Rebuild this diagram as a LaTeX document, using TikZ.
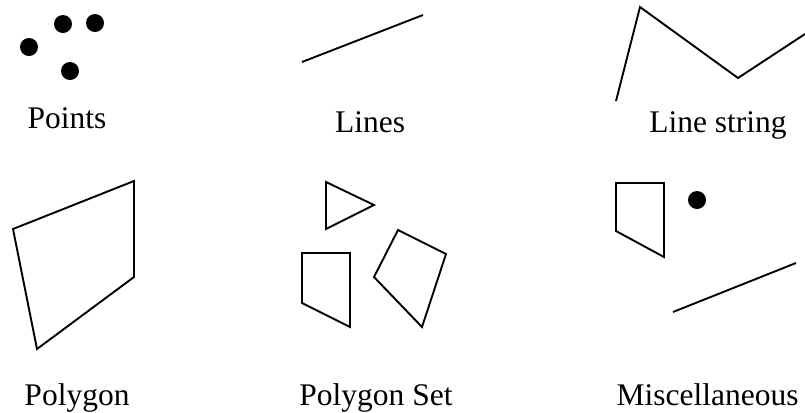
\documentclass[tikz,border=0pt]{standalone}
\usepackage{fontspec}
\setmainfont{Liberation Serif}
\begin{document}
\begin{tikzpicture}[x=1bp,y=-1bp,line width=1.9bp,line join=miter,
  caption/.style={anchor=base,inner sep=0pt,font=\fontsize{31.5bp}{36bp}\selectfont},
  dot/.style={circle,fill=black,inner sep=0pt,minimum size=18bp}]
\useasboundingbox (0,0) rectangle (805,412);
% Points
\begin{scope}
\node[dot] (p1) at (63,24) {}; \node[dot] (p2) at (95,23) {};
\node[dot] (p3) at (29,47) {}; \node[dot] (p4) at (70,71) {};
\node[caption] (points) at (67,128) {Points};
\end{scope}
% Lines
\begin{scope}
\draw (302,62)--(423,15);
\node[caption] (lines) at (370,132) {Lines};
\end{scope}
% Line string
\begin{scope}
\draw (616,101)--(640,7)--(738,78)--(805,34);
\node[caption] (linestring) at (718,132) {Line string};
\end{scope}
% Polygon
\begin{scope}
\draw (13,229)--(134,181)--(134,277)--(37,349)--cycle;
\node[caption] (polygon) at (77,405) {Polygon};
\end{scope}
% Polygon set
\begin{scope}
\draw (326,182)--(374,205)--(326,229)--cycle;
\draw (302,253)--(350,253)--(350,327)--(302,303)--cycle;
\draw (398,230)--(446,254)--(422,327)--(374,277)--cycle;
\node[caption] (polygonset) at (376,405) {Polygon Set};
\end{scope}
% Miscellaneous
\begin{scope}
\draw (616,183)--(664,183)--(664,257)--(616,231)--cycle;
\node[dot] (m1) at (697,200) {};
\draw (673,312)--(796,263);
\node[caption] (misc) at (707.5,405) {Miscellaneous};
\end{scope}
\end{tikzpicture}
\end{document}
